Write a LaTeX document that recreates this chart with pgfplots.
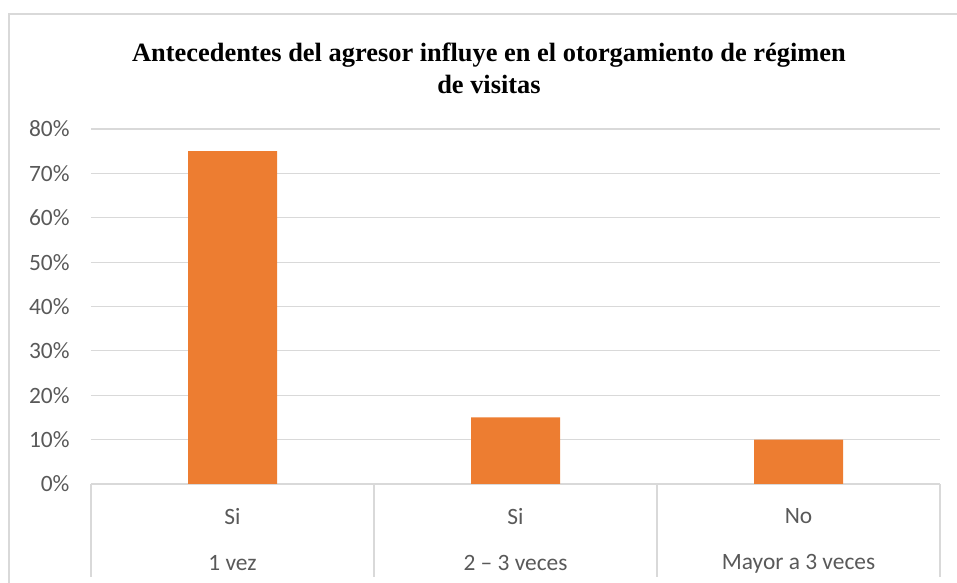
\documentclass[border=0pt]{standalone}
\usepackage{pgfplots}
\pgfplotsset{compat=1.18}
\usepackage{fontspec}
\setmainfont{Carlito}
\newfontfamily\titlefont{Liberation Serif}
\definecolor{barorange}{HTML}{ED7D31}
\definecolor{gridgray}{HTML}{D9D9D9}
\definecolor{txtgray}{HTML}{595959}
\begin{document}
\begin{tikzpicture}[x=1bp,y=1bp]
\useasboundingbox (-91,-99) rectangle (866,484);
\draw[gridgray, line width=1.5bp] (-82,-99) -- (-82,470) -- (870,470);
\begin{axis}[
    scale only axis,
    width=849bp, height=355bp,
    xmin=0, xmax=3,
    ymin=0, ymax=80,
    axis line style={draw=none},
    ytick={0,10,...,80},
    yticklabel={\pgfmathprintnumber{\tick}\%},
    ymajorgrids,
    grid style={gridgray, line width=1.2bp},
    major tick length=0pt,
    xtick pos=bottom,
    xtick={0.5,1.5,2.5},
    xticklabels={{Si\\[20bp]1 vez},{Si\\[20bp]2 -- 3 veces},{No\\[20bp]Mayor a 3 veces}},
    xticklabel style={align=center, yshift=-21bp},
    extra x ticks={0,1,2,3},
    extra x tick labels={},
    extra x tick style={major tick length=93bp, tick align=outside, grid=none,
        major tick style={gridgray, line width=1.2bp}},
    tick label style={font=\fontsize{23.5}{26}\selectfont, text=txtgray},
    /pgf/number format/assume math mode=true,
    yticklabel style={xshift=-18bp},
]
\addplot[ybar, bar width=89bp, fill=barorange, draw=none] coordinates {(0.5,75) (1.5,15) (2.5,10)};
\end{axis}
\node[font=\titlefont\bfseries\fontsize{26.5}{32}\selectfont, align=center] at (398,416)
    {Antecedentes del agresor influye en el otorgamiento de régimen\\de visitas};
\end{tikzpicture}
\end{document}
